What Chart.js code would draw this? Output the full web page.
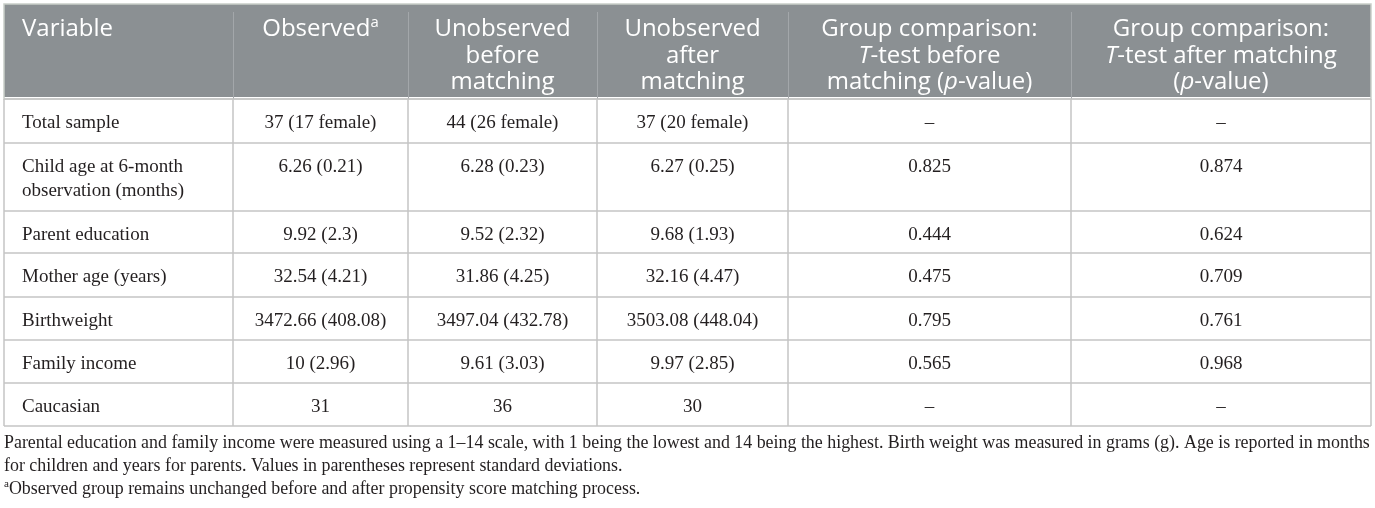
<!DOCTYPE html>
<html>
<head>
    <title>Observed vs unobserved groups</title>
    <style>
        body { margin: 0; background: #ffffff; }
        canvas { display: block; }
    </style>
    <script src="https://cdn.jsdelivr.net/npm/chart.js"></script>
</head>
<body>
    <canvas id="myChart" width="1375" height="508"></canvas>
    <script>
        // table content
        var headers = [
            ['Variable'],
            ['Observed^a^'],
            ['Unobserved', 'before', 'matching'],
            ['Unobserved', 'after', 'matching'],
            ['Group comparison:', '*T*-test before', 'matching (*p*-value)'],
            ['Group comparison:', '*T*-test after matching', '(*p*-value)']
        ];
        var variables = ['Total sample', 'Child age at 6-month observation (months)', 'Parent education',
            'Mother age (years)', 'Birthweight', 'Family income', 'Caucasian'];
        var observed = ['37 (17 female)', '6.26 (0.21)', '9.92 (2.3)', '32.54 (4.21)', '3472.66 (408.08)', '10 (2.96)', '31'];
        var unobsBefore = ['44 (26 female)', '6.28 (0.23)', '9.52 (2.32)', '31.86 (4.25)', '3497.04 (432.78)', '9.61 (3.03)', '36'];
        var unobsAfter = ['37 (20 female)', '6.27 (0.25)', '9.68 (1.93)', '32.16 (4.47)', '3503.08 (448.04)', '9.97 (2.85)', '30'];
        var pBefore = ['–', '0.825', '0.444', '0.475', '0.795', '0.565', '–'];
        var pAfter = ['–', '0.874', '0.624', '0.709', '0.761', '0.968', '–'];
        var footnotes = [
            'Parental education and family income were measured using a 1–14 scale, with 1 being the lowest and 14 being the highest. Birth weight was measured in grams (g). Age is reported in months',
            'for children and years for parents. Values in parentheses represent standard deviations.',
            '^a^Observed group remains unchanged before and after propensity score matching process.'
        ];
        var columns = [variables, observed, unobsBefore, unobsAfter, pBefore, pAfter];

        // layout (scale units == pixels)
        var colEdges = [4, 233, 408, 597, 788, 1071, 1371];
        var rowEdges = [4, 99, 143, 211, 253, 297, 340, 383, 426];
        var footBase = [448, 471, 494];
        var pad = 18;
        var serif = '"Liberation Serif", serif';
        var sans = '"Open Sans", sans-serif';

        function runs(s) {
            return s.split(/(\*[^*]+\*|\^[^^]+\^)/).filter(t => t).map(t => {
                if (t[0] === '*') return { t: t.slice(1, -1), it: true };
                if (t[0] === '^') return { t: t.slice(1, -1), sup: true };
                return { t: t };
            });
        }
        function runFont(r, size, fam) {
            var s = r.sup ? size * 0.62 : size;
            return (r.it ? 'italic ' : '') + s + 'px ' + fam;
        }
        function drawRich(ctx, s, x, y, align, size, fam) {
            var parts = runs(s);
            var w = 0;
            parts.forEach(r => { ctx.font = runFont(r, size, fam); r.w = ctx.measureText(r.t).width; w += r.w; });
            var cx = align === 'center' ? x - w / 2 : x;
            ctx.textAlign = 'left';
            parts.forEach(r => {
                ctx.font = runFont(r, size, fam);
                ctx.fillText(r.t, cx, r.sup ? y - size * 0.38 : y);
                cx += r.w;
            });
        }
        function wrap(ctx, s, maxW) {
            var words = s.split(' '), lines = [], cur = '';
            words.forEach(wd => {
                var t = cur ? cur + ' ' + wd : wd;
                if (cur && ctx.measureText(t).width > maxW) { lines.push(cur); cur = wd; } else cur = t;
            });
            lines.push(cur);
            return lines;
        }

        var tablePlugin = {
            id: 'tablePlugin',
            beforeDatasetsDraw(chart) {
                var ctx = chart.ctx, xs = chart.scales.x, ys = chart.scales.y;
                var X = v => xs.getPixelForValue(v), Y = v => ys.getPixelForValue(v);
                var x0 = X(colEdges[0]), x1 = X(colEdges[colEdges.length - 1]);
                ctx.save();
                // header band
                ctx.fillStyle = '#8b9093';
                ctx.fillRect(x0, Y(rowEdges[0]), x1 - x0, Y(rowEdges[1]) - Y(rowEdges[0]) - 2);
                ctx.strokeStyle = '#c9cec9';
                ctx.lineWidth = 1.5;
                ctx.strokeRect(x0, Y(rowEdges[0]), x1 - x0, Y(rowEdges[1]) - Y(rowEdges[0]));
                // header column separators
                ctx.strokeStyle = '#a3a7aa';
                ctx.lineWidth = 1;
                colEdges.slice(1, -1).forEach(c => {
                    ctx.beginPath(); ctx.moveTo(X(c) + 0.5, Y(rowEdges[0]) + 8); ctx.lineTo(X(c) + 0.5, Y(rowEdges[1])); ctx.stroke();
                });
                // body grid
                ctx.strokeStyle = '#c4c4c4';
                ctx.lineWidth = 1.5;
                rowEdges.slice(1).forEach(r => {
                    ctx.beginPath(); ctx.moveTo(x0, Y(r)); ctx.lineTo(x1, Y(r)); ctx.stroke();
                });
                colEdges.forEach(c => {
                    ctx.beginPath(); ctx.moveTo(X(c), Y(rowEdges[1])); ctx.lineTo(X(c), Y(rowEdges[rowEdges.length - 1])); ctx.stroke();
                });
                ctx.restore();
            },
            afterDatasetsDraw(chart) {
                var ctx = chart.ctx;
                ctx.save();
                ctx.textBaseline = 'alphabetic';
                chart.data.datasets.forEach((ds, j) => {
                    var meta = chart.getDatasetMeta(j);
                    meta.data.forEach((pt, i) => {
                        var align = ds.colIndex === 0 ? 'left' : 'center';
                        if (ds.kind === 'header') {
                            ctx.fillStyle = '#ffffff';
                            headers[ds.colIndex].forEach((ln, k) => drawRich(ctx, ln, pt.x, pt.y + 32 + k * 26.5, align, 24, sans));
                        } else {
                            ctx.fillStyle = '#231f20';
                            ctx.font = '19px ' + serif;
                            var maxW = colEdges[ds.colIndex + 1] - colEdges[ds.colIndex] - 2 * pad;
                            wrap(ctx, columns[ds.colIndex][i], maxW).forEach((ln, k) => drawRich(ctx, ln, pt.x, pt.y + 29 + k * 24, align, 19, serif));
                        }
                    });
                });
                // notes below the table
                ctx.fillStyle = '#231f20';
                footnotes.forEach((ln, k) => drawRich(ctx, ln, chart.scales.x.getPixelForValue(colEdges[0]), chart.scales.y.getPixelForValue(footBase[k]), 'left', 17.9, serif));
                ctx.restore();
            }
        };

        function anchorX(j) {
            return j === 0 ? colEdges[0] + pad : (colEdges[j] + colEdges[j + 1]) / 2;
        }
        var datasets = [];
        columns.forEach((col, j) => {
            datasets.push({ kind: 'header', colIndex: j, data: [{ x: anchorX(j), y: rowEdges[0] }], pointRadius: 0 });
            datasets.push({ kind: 'body', colIndex: j, data: col.map((v, i) => ({ x: anchorX(j), y: rowEdges[i + 1] })), pointRadius: 0 });
        });

        var ctx = document.getElementById('myChart').getContext('2d');
        var myChart = new Chart(ctx, {
            type: 'scatter',
            data: { datasets: datasets },
            options: {
                responsive: false,
                animation: false,
                events: [],
                layout: { padding: 0 },
                plugins: { legend: { display: false }, tooltip: { enabled: false } },
                scales: {
                    x: { type: 'linear', min: 0, max: 1375, display: false },
                    y: { type: 'linear', min: 0, max: 508, reverse: true, display: false }
                }
            },
            plugins: [tablePlugin]
        });
    </script>
</body>
</html>
